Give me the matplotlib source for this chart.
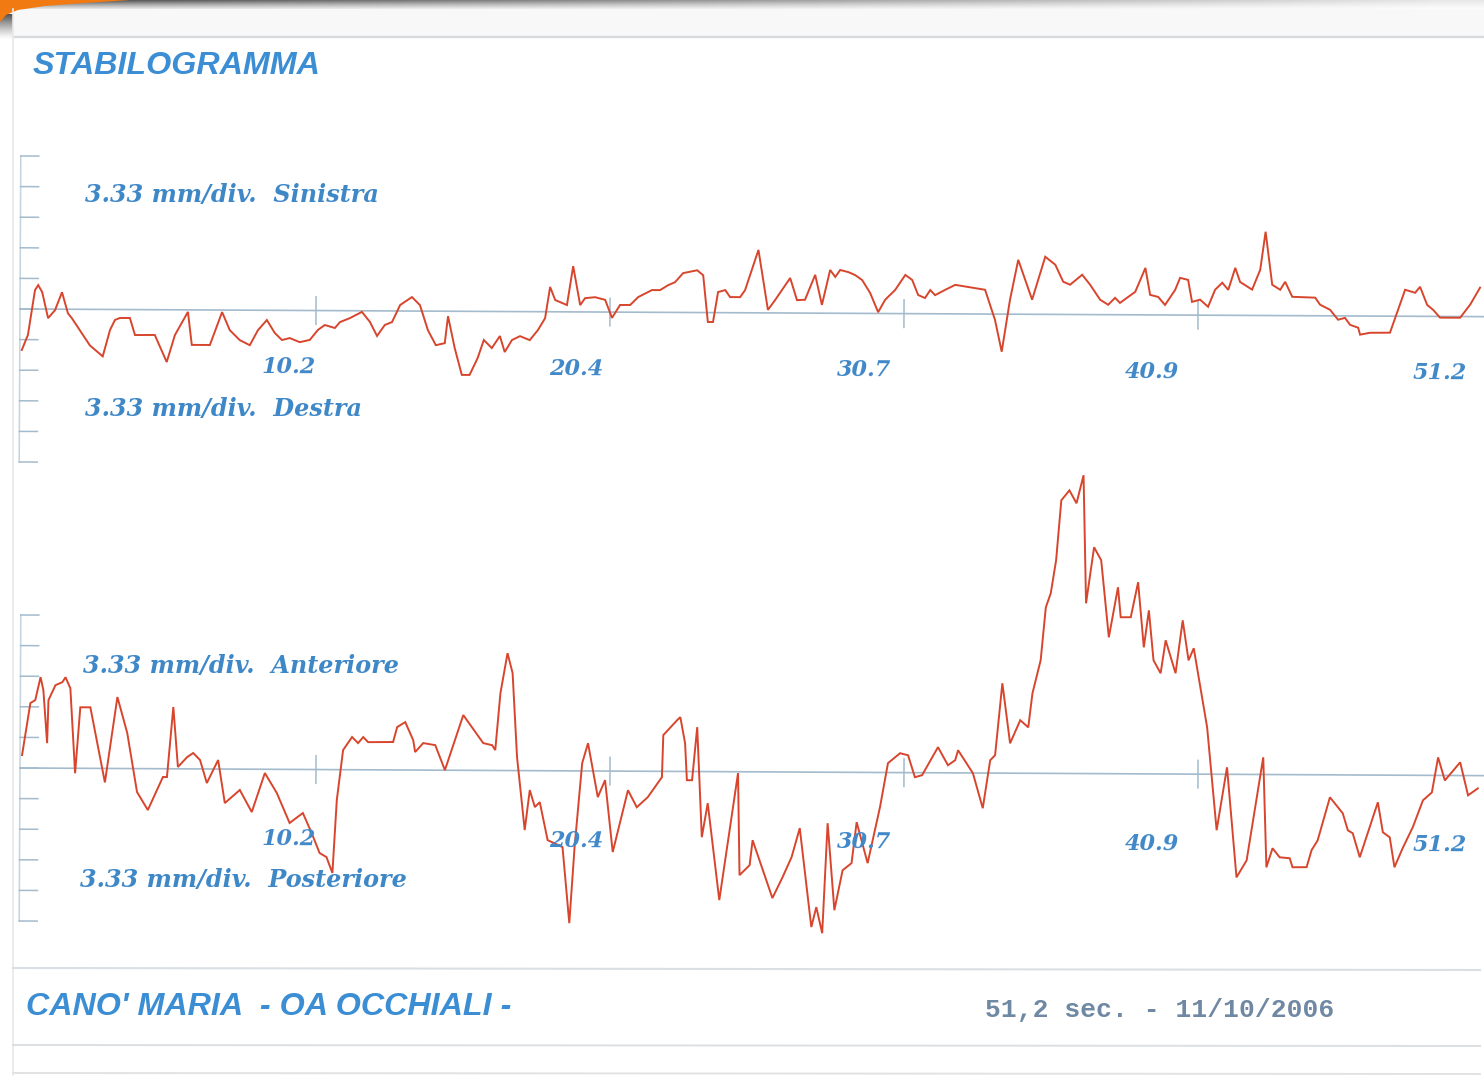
import numpy as np
import matplotlib
matplotlib.use("Agg")
import matplotlib.pyplot as plt
from matplotlib import font_manager
from matplotlib.transforms import Affine2D
from matplotlib.patches import Polygon, Rectangle

# ---------------------------------------------------------------- data
# time axis labels (s)
tick_times = [10.24, 20.48, 30.72, 40.96, 51.2]
tick_labels = ["10.2", "20.4", "30.7", "40.9", "51.2"]

# medio-lateral sway (mm): positive = Sinistra, negative = Destra
ml_time = [
    0.00, 0.21, 0.45, 0.56, 0.70, 0.91, 1.15, 1.39, 1.60, 1.74,
    2.02, 2.37, 2.82, 3.07, 3.24, 3.41, 3.76, 3.94, 4.63, 5.05,
    5.33, 5.78, 5.92, 6.55, 6.97, 7.24, 7.59, 7.94, 8.22, 8.53,
    8.81, 9.06, 9.33, 9.68, 10.03, 10.31, 10.55, 10.90, 11.08, 11.42,
    11.84, 12.12, 12.37, 12.64, 12.89, 13.17, 13.58, 13.86, 14.14, 14.42,
    14.73, 14.84, 15.08, 15.33, 15.60, 15.88, 16.09, 16.37, 16.65, 16.82,
    17.07, 17.35, 17.69, 17.97, 18.22, 18.39, 18.57, 18.98, 19.19, 19.44,
    19.61, 19.96, 20.31, 20.55, 20.83, 21.18, 21.46, 21.94, 22.22, 22.50,
    22.74, 23.02, 23.51, 23.72, 23.89, 24.07, 24.24, 24.49, 24.66, 25.01,
    25.18, 25.64, 25.98, 26.23, 26.75, 26.99, 27.27, 27.62, 27.86, 28.14,
    28.32, 28.49, 28.77, 29.01, 29.26, 29.54, 29.82, 30.06, 30.41, 30.76,
    31.00, 31.21, 31.45, 31.63, 31.80, 32.15, 32.50, 33.54, 33.89, 34.13,
    34.41, 34.69, 35.18, 35.63, 35.98, 36.26, 36.50, 36.92, 37.20, 37.55,
    37.83, 38.07, 38.24, 38.77, 39.12, 39.29, 39.57, 39.81, 40.16, 40.33,
    40.61, 40.75, 41.03, 41.31, 41.55, 41.80, 42.01, 42.25, 42.42, 42.84,
    43.12, 43.30, 43.54, 43.82, 43.99, 44.24, 45.04, 45.21, 45.56, 45.84,
    46.08, 46.26, 46.54, 46.61, 46.95, 47.65, 47.93, 48.17, 48.52, 48.69,
    48.94, 49.15, 49.39, 50.09, 50.44, 50.78,
]
ml_mm = [
    -4.46, -2.83, 2.07, 2.61, 1.85, -0.98, -0.11, 1.85, -0.44, -0.98,
    -2.28, -3.92, -5.11, -2.23, -1.14, -0.92, -0.92, -2.77, -2.75, -5.69,
    -2.75, -0.22, -3.81, -3.81, -0.22, -2.18, -3.26, -3.81, -2.18, -1.06,
    -2.47, -3.23, -3.01, -3.45, -3.20, -2.11, -1.57, -1.89, -1.24, -0.81,
    -0.12, -1.21, -2.73, -1.53, -1.21, 0.65, 1.52, 0.65, -2.07, -3.70,
    -3.48, -0.54, -4.03, -6.92, -6.92, -5.07, -3.11, -3.98, -2.67, -4.41,
    -3.10, -2.67, -3.10, -2.01, -0.71, 2.70, 1.28, 0.74, 4.98, 0.74,
    1.50, 1.61, 1.33, -0.63, 0.78, 0.78, 1.65, 2.42, 2.42, 2.96,
    3.29, 4.28, 4.60, 4.06, -1.02, -1.02, 2.24, 2.46, 1.70, 1.70,
    2.46, 6.85, 0.33, 1.41, 3.81, 1.41, 1.45, 4.17, 0.90, 4.71,
    3.95, 4.71, 4.49, 4.17, 3.62, 2.21, 0.14, 1.49, 2.58, 4.21,
    3.67, 2.03, 1.71, 2.58, 2.03, 2.61, 3.16, 2.64, -0.62, -4.09,
    1.57, 5.92, 1.59, 6.27, 5.41, 3.56, 3.24, 4.33, 3.24, 1.62,
    1.08, 1.84, 1.29, 2.50, 5.11, 2.18, 1.96, 1.09, 2.74, 4.05,
    3.83, 1.44, 1.69, 0.92, 2.77, 3.54, 2.77, 5.17, 3.64, 2.81,
    4.98, 9.12, 3.35, 2.81, 3.68, 2.05, 1.97, 1.21, 0.66, -0.42,
    -0.21, -0.97, -1.27, -2.03, -1.82, -1.80, 0.71, 2.88, 2.56, 3.21,
    1.25, 0.71, -0.13, -0.13, 1.31, 3.16,
]

# antero-posterior sway (mm): positive = Anteriore, negative = Posteriore
ap_time = [
    0.00, 0.28, 0.45, 0.63, 0.73, 0.87, 0.91, 1.15, 1.39, 1.50,
    1.67, 1.85, 2.02, 2.37, 2.89, 3.31, 3.66, 4.01, 4.39, 4.91,
    5.05, 5.26, 5.43, 5.75, 5.96, 6.20, 6.44, 6.83, 7.07, 7.59,
    8.01, 8.46, 8.88, 9.33, 9.79, 10.10, 10.38, 10.62, 10.83, 10.97,
    11.18, 11.49, 11.70, 11.88, 12.05, 12.92, 13.06, 13.34, 13.62, 13.69,
    13.97, 14.39, 14.73, 15.36, 16.06, 16.37, 16.48, 16.65, 16.89, 17.07,
    17.24, 17.52, 17.69, 17.87, 18.04, 18.32, 18.84, 19.09, 19.26, 19.51,
    19.71, 20.06, 20.31, 20.59, 21.11, 21.42, 21.80, 22.29, 22.33, 22.81,
    22.92, 23.09, 23.16, 23.34, 23.51, 23.69, 23.89, 24.31, 24.94, 25.01,
    25.36, 25.46, 26.16, 26.51, 26.82, 27.10, 27.52, 27.69, 27.90, 28.07,
    28.32, 28.60, 28.91, 29.08, 29.47, 29.89, 30.16, 30.58, 30.86, 31.10,
    31.35, 31.90, 32.25, 32.50, 32.60, 33.12, 33.47, 33.72, 33.89, 34.13,
    34.41, 34.76, 35.04, 35.18, 35.46, 35.63, 35.80, 35.98, 36.15, 36.43,
    36.68, 36.92, 37.03, 37.30, 37.55, 37.83, 38.14, 38.24, 38.59, 38.84,
    39.05, 39.22, 39.39, 39.64, 39.81, 40.16, 40.40, 40.61, 40.79, 41.27,
    41.62, 41.97, 42.32, 42.67, 43.23, 43.36, 43.57, 43.82, 44.17, 44.27,
    44.76, 44.93, 45.14, 45.56, 46.01, 46.19, 46.36, 46.61, 47.23, 47.41,
    47.65, 47.82, 48.10, 48.45, 48.80, 49.11, 49.32, 49.56, 50.09, 50.37,
    50.71,
]
ap_mm = [
    1.41, 7.07, 7.40, 9.90, 8.49, 2.72, 7.40, 9.03, 9.36, 9.90,
    8.70, -0.54, 6.64, 6.64, -1.52, 7.78, 3.86, -2.55, -4.50, -0.90,
    -0.90, 6.72, 0.20, 1.28, 1.73, 0.97, -1.53, 0.98, -3.70, -2.27,
    -4.66, -0.41, -2.58, -5.83, -4.74, -6.91, -9.08, -9.52, -11.25, -3.31,
    2.13, 3.56, 2.90, 3.56, 3.01, 3.04, 4.67, 5.21, 3.26, 1.96,
    2.94, 2.72, 0.01, 6.01, 2.97, 2.75, 2.22, 8.42, 12.77, 10.61,
    1.47, -6.47, -2.11, -3.96, -3.42, -7.55, -8.30, -16.57, -8.30, 0.85,
    3.02, -2.84, -0.99, -8.81, -2.07, -3.92, -2.82, -0.63, 3.94, 5.58,
    5.91, 3.08, -0.95, -0.95, 4.83, -7.14, -3.44, -13.98, -0.15, -11.25,
    -10.16, -7.44, -13.73, -11.45, -9.26, -6.10, -16.86, -14.69, -17.52, -5.55,
    -15.01, -10.66, -9.88, -5.42, -9.87, -3.78, 1.02, 2.11, 1.89, -0.49,
    -0.27, 2.79, 0.83, 1.38, 2.47, -0.02, -3.83, 1.39, 1.95, 9.78,
    3.25, 5.77, 5.00, 8.70, 12.31, 18.07, 19.61, 23.20, 29.72, 30.81,
    29.41, 32.46, 18.53, 24.63, 23.22, 14.84, 20.29, 17.03, 17.04, 20.85,
    13.77, 17.80, 12.37, 10.96, 14.55, 10.97, 16.73, 12.38, 13.70, 5.10,
    -6.09, 0.76, -11.21, -9.35, 1.87, -10.10, -8.02, -9.00, -9.10, -10.08,
    -10.06, -8.21, -7.13, -2.44, -4.18, -6.03, -6.34, -8.95, -2.96, -6.22,
    -6.76, -10.02, -7.95, -5.66, -2.72, -1.85, 1.96, -0.54, 1.44, -2.15,
    -1.39,
]

MM_PER_DIV = 3.33
N_DIV = 5

# ---------------------------------------------------------------- style
W, H, DPI = 1484, 1076, 100
TRACE = "#d8452d"
GRID = "#a3bbcc"
BLUE = "#3f88c8"
TITLE_BLUE = "#3b8dd4"
DATE_GREY = "#6f88a3"
PX_PER_DIV = 30.6
T0_PX, T1_PX = 22, 1492     # pixel columns of t = 0 and t = 51.2 s
TILT_DEG = -0.3             # the printout sits slightly askew


def pick_family(candidates, default):
    for name in candidates:
        try:
            font_manager.findfont(font_manager.FontProperties(family=name),
                                  fallback_to_default=False)
            return name
        except ValueError:
            continue
    return default


def fig_rect(x0, y0, x1, y1):
    """Pixel box (origin top-left) -> figure fraction rect."""
    return [x0 / W, 1 - y1 / H, (x1 - x0) / W, (y1 - y0) / H]


def fx(px):
    return px / W


def fy(py):
    return 1 - py / H


fig = plt.figure(figsize=(W / DPI, H / DPI), dpi=DPI)
fig.patch.set_facecolor("white")

# ---------------------------------------------------------------- paper
bg = fig.add_axes([0, 0, 1, 1], zorder=0)
bg.set_xlim(0, W)
bg.set_ylim(H, 0)
bg.axis("off")

# top shadow of the sheet
ny, nx = 30, 300
yy = np.linspace(0, 1, ny)[:, None]
xx = np.linspace(0, 1, nx)[None, :]
shadow = np.zeros((ny, nx, 4))
shadow[..., :3] = 0.2
shadow[..., 3] = (1 - yy) ** 1.4 * np.clip(0.9 - 0.8 * xx, 0.12, 1)
bg.imshow(shadow, extent=(0, W, 12, 0), aspect="auto",
          interpolation="bilinear", zorder=1)
# left shadow under the orange corner
side = np.zeros((ny, 10, 4))
side[..., :3] = 0.2
side[..., 3] = (1 - yy) ** 1.3 * 0.85
bg.imshow(side, extent=(0, 13, 40, 14), aspect="auto",
          interpolation="bilinear", zorder=1)
bg.add_patch(Polygon([(0, 0), (130, 0), (85, 3), (45, 6), (18, 10),
                      (6, 15), (0, 22)],
                     closed=True, facecolor="#f27a12", edgecolor="none",
                     zorder=2))
# sheet
bg.add_patch(Rectangle((13, 9), W - 13, 28, facecolor="#f8f8f8",
                       edgecolor="none", zorder=1.5))
bg.plot([13, W], [37, 37], color="#d6dadd", lw=1.6, zorder=2)
bg.plot([13, 13], [9, H], color="#e9e9e9", lw=1.2, zorder=2)
bg.plot([13, W - 4], [968, 970], color="#d9dfe4", lw=1.5, zorder=2)
bg.plot([13, W - 4], [1045, 1046], color="#dcdfe2", lw=1.4, zorder=2)
bg.plot([13, W - 4], [1073, 1074], color="#e2e2e2", lw=1.4, zorder=2)


# ---------------------------------------------------------------- panels
def sway_panel(top_px, bottom_px, zero_px, t, mm, label_drop):
    ax = fig.add_axes(fig_rect(T0_PX, top_px, T1_PX, bottom_px), zorder=2)
    ax.set_xlim(0, tick_times[-1])
    ax.set_ylim((zero_px - bottom_px) / PX_PER_DIV * MM_PER_DIV,
                (zero_px - top_px) / PX_PER_DIV * MM_PER_DIV)
    ax.axis("off")
    ax.patch.set_visible(False)

    ox, oy = ax.transData.transform((0.0, 0.0))
    tr = ax.transData + Affine2D().rotate_deg_around(ox, oy, TILT_DEG)
    s_per_px = tick_times[-1] / (T1_PX - T0_PX)

    # vertical scale with one tick per division
    x_bar = -2 * s_per_px
    x_tick = 16 * s_per_px
    lim = N_DIV * MM_PER_DIV
    ax.plot([x_bar, x_bar], [-lim, lim], color="#c5d3de", lw=1.1,
            transform=tr, clip_on=False)
    for k in range(-N_DIV, N_DIV + 1):
        ax.plot([x_bar, x_tick], [k * MM_PER_DIV] * 2, color=GRID, lw=1.1,
                transform=tr, clip_on=False)

    # zero line and time marks
    ax.plot([x_bar, tick_times[-1]], [0, 0], color=GRID, lw=1.2,
            transform=tr, clip_on=False)
    for tk in tick_times[:-1]:
        ax.plot([tk, tk], [-1.5, 1.5], color=GRID, lw=1.1,
                transform=tr, clip_on=False)

    ax.plot(t, mm, color=TRACE, lw=1.4, transform=tr, clip_on=False,
            solid_joinstyle="miter", zorder=3)

    for tk, lab in zip(tick_times, tick_labels):
        ax.text(0.9787 * tk - 0.717, label_drop, lab, transform=tr,
                ha="center", va="center", rotation=TILT_DEG,
                family="DejaVu Serif", weight="bold", style="italic",
                fontsize=16, color=BLUE, zorder=4)
    return ax


sway_panel(110, 500, 309, ml_time, ml_mm, -6.2)
sway_panel(440, 1000, 768, ap_time, ap_mm, -7.6)

# ---------------------------------------------------------------- text
serif = dict(family="DejaVu Serif", weight="bold", style="italic",
             fontsize=17.2, color=BLUE, va="center", ha="left", zorder=5)
fig.text(fx(85), fy(195), "3.33 mm/div.  Sinistra", **serif)
fig.text(fx(85), fy(409), "3.33 mm/div.  Destra", **serif)
fig.text(fx(83), fy(666), "3.33 mm/div.  Anteriore", **serif)
fig.text(fx(80), fy(880), "3.33 mm/div.  Posteriore", **serif)

fig.text(fx(33), fy(66), "STABILOGRAMMA", family="Liberation Sans",
         weight="bold", style="italic", fontsize=23.2, color=TITLE_BLUE,
         va="center", ha="left")

narrow = pick_family(["Liberation Sans Narrow", "Arial Narrow"], None)
if narrow is not None:
    name_font = dict(family=narrow, fontsize=25.5)
else:
    name_font = dict(family="Liberation Sans", fontsize=23.2)
fig.text(fx(26), fy(1007), "CANO' MARIA  - OA OCCHIALI -", weight="bold",
         style="italic", color=TITLE_BLUE, va="center", ha="left",
         **name_font)
fig.text(fx(985), fy(1010), "51,2 sec. - 11/10/2006",
         family="Liberation Mono", weight="bold", fontsize=19,
         color=DATE_GREY, va="center", ha="left")

fig.savefig("out.png", dpi=DPI, facecolor="white")
